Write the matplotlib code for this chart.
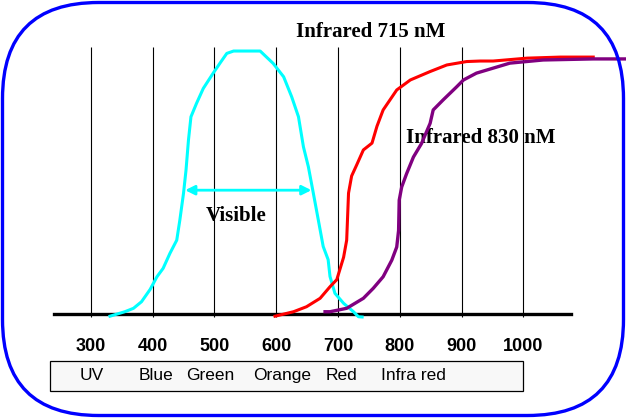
import matplotlib.pyplot as plt
from matplotlib.patches import FancyBboxPatch, Rectangle

# wavelength (nm) vs relative response (%)
vis_nm = [331, 355, 369, 382, 396, 407, 417, 428, 439, 444, 450, 454, 458, 462, 471, 482,
          498, 509, 520, 531, 574, 595, 612, 625, 636, 644, 652, 660, 668, 676, 684, 687,
          695, 709, 725, 733, 739]
vis_val = [-0.8, 0.9, 2.2, 4.7, 9.4, 14.2, 17.4, 23.1, 28.1, 35.7, 46.0, 54.7, 66.2, 75.0, 80.1, 85.8,
           91.6, 95.4, 99.1, 100, 100, 95.3, 90.2, 82.6, 75.0, 63.6, 56.0, 46.0, 35.9, 25.7, 20.7, 14.3,
           7.9, 4.1, 0.9, -1.0, -1.1]

ir715_nm = [598, 628, 649, 671, 687, 698, 709, 714, 717, 722, 730, 741, 755, 763, 773,
            795, 817, 849, 876, 908, 930, 951, 1006, 1060, 1113]
ir715_val = [-0.8, 0.9, 2.8, 6.0, 10.4, 13.1, 21.6, 28.1, 46.0, 52.5, 56.6, 62.4, 65.0, 71.4, 77.6,
             85.2, 89.0, 92.2, 94.7, 96.0, 96.2, 96.2, 97.3, 97.7, 97.7]

ir830_nm = [679, 687, 714, 741, 757, 773, 787, 795, 798, 799, 803, 811, 822, 835, 849,
            854, 870, 892, 903, 924, 978, 1032, 1113, 1166]
ir830_val = [0.9, 0.9, 2.2, 6.0, 9.8, 14.2, 20.5, 25.5, 31.8, 43.3, 48.3, 53.4, 59.7, 64.8, 72.5,
             77.6, 81.4, 86.4, 89.0, 91.6, 95.4, 96.6, 97.0, 97.0]

ticks = [300, 400, 500, 600, 700, 800, 900, 1000]
bands = ["UV", "Blue", "Green", "Orange", "Red", "Infra red"]
band_x = [302, 405, 493, 609, 705, 822]

fig = plt.figure(figsize=(6.26, 4.18), dpi=100)
ax = fig.add_axes([0, 0, 1, 1])
ax.set_xlim(153, 1166)
ax.set_ylim(-39.5, 119.4)
ax.axis('off')

# grid lines and baseline
ax.vlines(ticks, -1.1, 101.5, color='black', lw=0.8, zorder=1)
ax.plot([240.5, 1077], [0, 0], color='black', lw=2.4, zorder=2)

ax.plot(vis_nm, vis_val, color='#00ffff', lw=2.2, zorder=3)
ax.plot(ir715_nm, ir715_val, color='#ff0000', lw=2.2, zorder=4)
ax.plot(ir830_nm, ir830_val, color='#800080', lw=2.4, zorder=5)

ax.annotate('', xy=(657, 47.1), xytext=(452.6, 47.1),
            arrowprops=dict(arrowstyle='<|-|>', color='#00ffff', lw=2, mutation_scale=14,
                            shrinkA=0, shrinkB=0))

serif = dict(family='Liberation Serif', weight='bold', size=15)
ax.text(535.7, 37.4, "Visible", ha='center', va='center', **serif)
ax.text(753.4, 107.2, "Infrared 715 nM", ha='center', va='center', **serif)
ax.text(930.3, 66.9, "Infrared 830 nM", ha='center', va='center', **serif)

for t in ticks:
    ax.text(t, -12.2, str(t), ha='center', va='center', family='Liberation Sans',
            weight='bold', size=13)

ax.add_patch(Rectangle((234, -29.3), 999.5 - 234, 11.4, facecolor='#f8f8f8',
                       edgecolor='black', lw=0.9))
for b, x in zip(bands, band_x):
    ax.text(x, -23.2, b, ha='center', va='center', family='Liberation Sans', size=12.5)

# rounded blue border in pixel coords
ov = fig.add_axes([0, 0, 1, 1], facecolor='none')
ov.set_xlim(0, 626)
ov.set_ylim(418, 0)
ov.axis('off')
ov.add_patch(FancyBboxPatch((2.5, 2.5), 621, 413, boxstyle='round,pad=0,rounding_size=96',
                            facecolor='none', edgecolor='#0000ff', lw=2.4))

fig.savefig('out.png', dpi=100)
